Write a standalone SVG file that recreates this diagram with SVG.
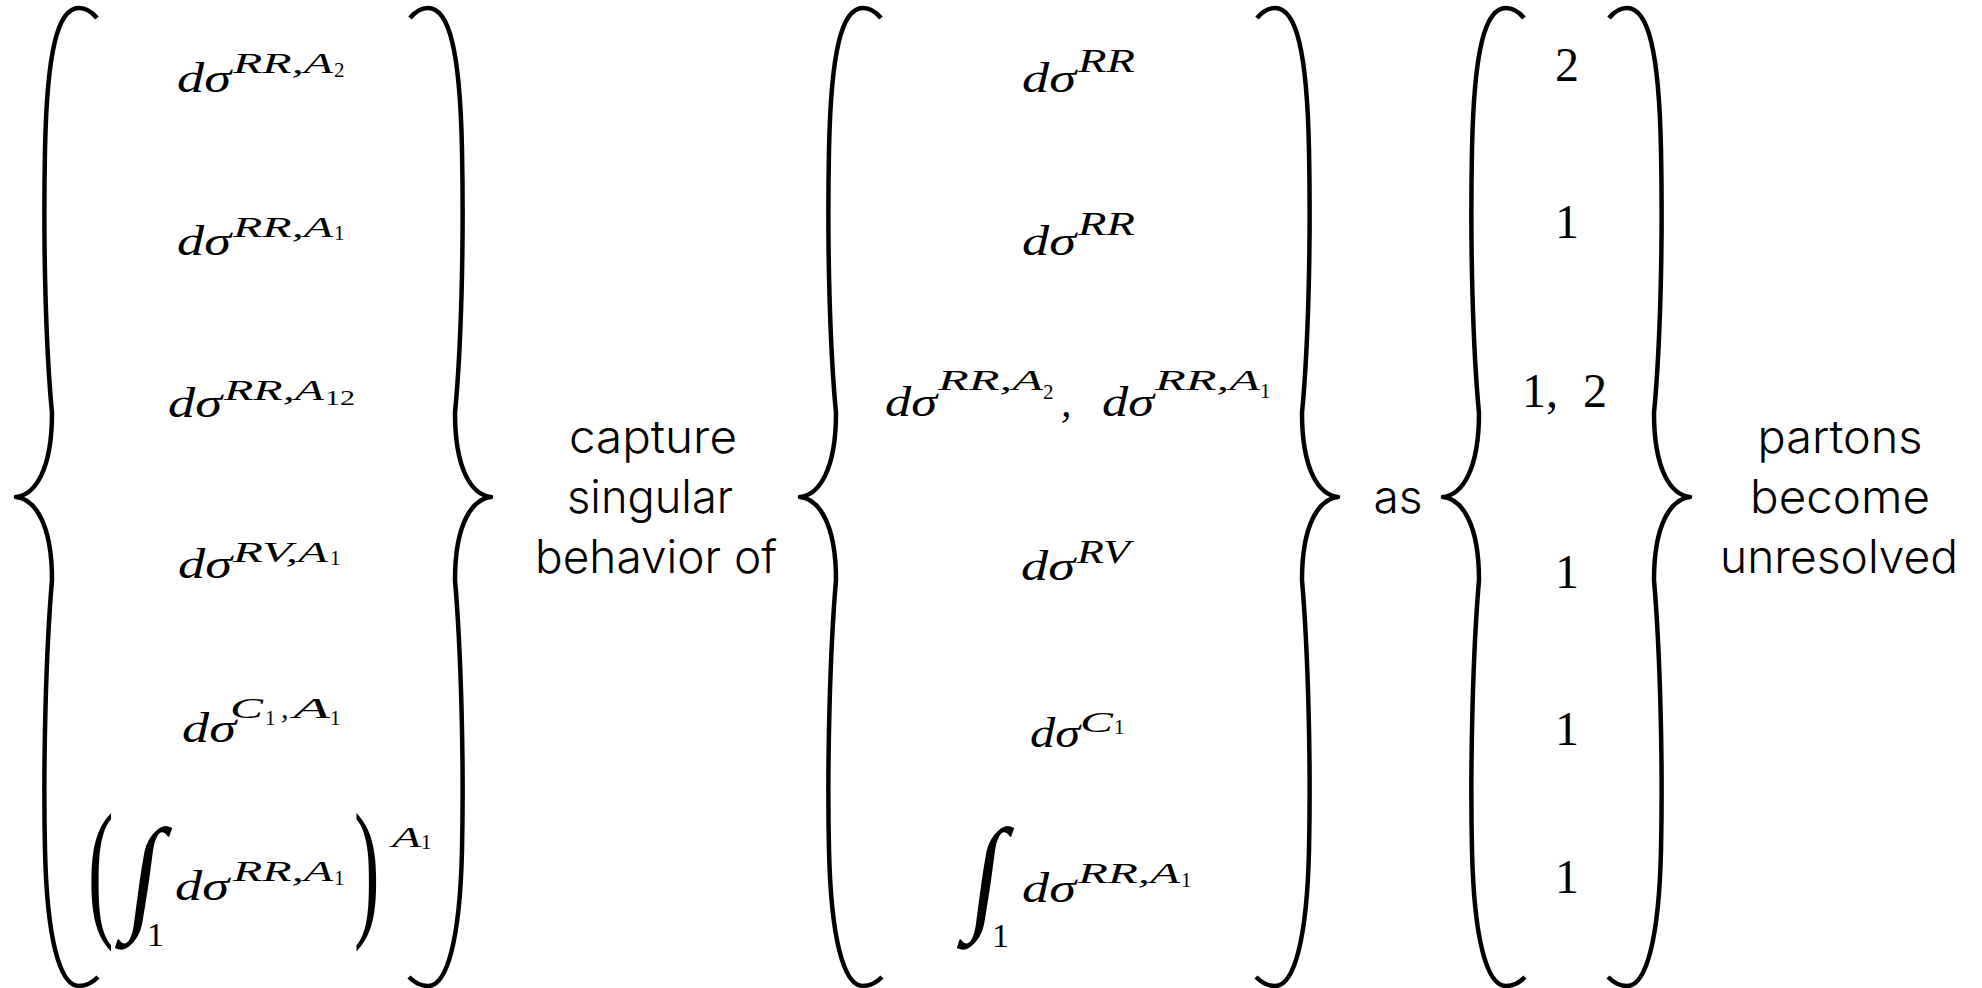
<svg xmlns="http://www.w3.org/2000/svg" xmlns:xlink="http://www.w3.org/1999/xlink" width="1982" height="988" viewBox="0 0 1982 988">
<style>
.m{font-family:"Liberation Serif",serif;font-style:italic;font-size:42px;fill:#000}
.s{font-family:"Liberation Serif",serif;font-style:italic;font-size:30px;fill:#000}
.s2{font-family:"Liberation Serif",serif;font-style:italic;font-size:33px;fill:#000}
.ss{font-family:"Liberation Serif",serif;font-size:21px;fill:#000}
.sd{font-family:"Liberation Serif",serif;font-size:34px;fill:#000}
.n{font-family:"Liberation Serif",serif;font-size:48px;fill:#000}
.t{font-family:Inter,"Liberation Sans",Arial,sans-serif;font-weight:300;font-size:46px;fill:#000;text-anchor:middle}
.br{fill:none;stroke:#000;stroke-width:4.5;stroke-linejoin:round}
.big{font-family:"Liberation Serif",serif;fill:#000}
</style>
<defs>
<path id="lb" class="br" d="M 81 18 C 76 12, 70 8, 63 8 C 42 8, 31 50, 29 150 C 27 250, 30 350, 36 413 C 36 470, 19 495, 0 497 C 19 499, 36 524, 36 580 C 30 650, 27 760, 29 850 C 31 940, 44 986, 63 986 C 70 986, 76 983, 82 977"/>
</defs>
<rect width="1982" height="988" fill="#fff"/>

<g id="braces">
<use xlink:href="#lb" transform="translate(16,0)"/>
<use xlink:href="#lb" transform="translate(491,0) scale(-1,1)"/>
<use xlink:href="#lb" transform="translate(800,0)"/>
<use xlink:href="#lb" transform="translate(1338,0) scale(-1,1)"/>
<use xlink:href="#lb" transform="translate(1443,0)"/>
<use xlink:href="#lb" transform="translate(1690,0) scale(-1,1)"/>
</g>

<g id="col1">
<g id="c1r1"><text class="m" x="177" y="92" textLength="54" lengthAdjust="spacingAndGlyphs">dσ</text><text class="s" x="233" y="73" textLength="100" lengthAdjust="spacingAndGlyphs">RR,A</text><text class="ss" x="334" y="77">2</text></g>
<g id="c1r2"><text class="m" x="177" y="255" textLength="54" lengthAdjust="spacingAndGlyphs">dσ</text><text class="s" x="233" y="237" textLength="100" lengthAdjust="spacingAndGlyphs">RR,A</text><text class="ss" x="334" y="240">1</text></g>
<g id="c1r3"><text class="m" x="168" y="417" textLength="54" lengthAdjust="spacingAndGlyphs">dσ</text><text class="s" x="224" y="400" textLength="100" lengthAdjust="spacingAndGlyphs">RR,A</text><text class="ss" x="325" y="405" textLength="30" lengthAdjust="spacingAndGlyphs">12</text></g>
<g id="c1r4"><text class="m" x="178" y="578" textLength="54" lengthAdjust="spacingAndGlyphs">dσ</text><text class="s" x="233" y="562" textLength="95" lengthAdjust="spacingAndGlyphs">RV,A</text><text class="ss" x="330" y="565">1</text></g>
<g id="c1r5"><text class="m" x="182" y="742" textLength="54" lengthAdjust="spacingAndGlyphs">dσ</text><text class="s" x="230" y="718" textLength="33" lengthAdjust="spacingAndGlyphs">C</text><text class="ss" x="265" y="725">1</text><text class="s" x="281" y="718">,</text><text class="s" x="293" y="718" textLength="37" lengthAdjust="spacingAndGlyphs">A</text><text class="ss" x="330" y="725">1</text></g>
<g id="c1r6">
<text class="big" x="0" y="0" font-size="153" transform="translate(88,919) scale(0.5,1)">(</text>
<text class="big" x="0" y="0" font-size="126" transform="translate(125,916) skewX(-8) scale(0.85,1)">∫</text>
<text class="sd" x="147" y="946">1</text>
<text class="m" x="175" y="900" textLength="54" lengthAdjust="spacingAndGlyphs">dσ</text><text class="s" x="233" y="881" textLength="100" lengthAdjust="spacingAndGlyphs">RR,A</text><text class="ss" x="334" y="885">1</text>
<text class="big" x="0" y="0" font-size="153" transform="translate(354,919) scale(0.5,1)">)</text>
<text class="s" x="392" y="847" textLength="29" lengthAdjust="spacingAndGlyphs">A</text><text class="ss" x="421" y="849">1</text>
</g>
</g>

<g id="label-capture">
<text class="t" x="653" y="453" textLength="168" lengthAdjust="spacingAndGlyphs">capture</text>
<text class="t" x="650" y="513" textLength="166" lengthAdjust="spacingAndGlyphs">singular</text>
<text class="t" x="656" y="573" textLength="242" lengthAdjust="spacingAndGlyphs">behavior of</text>
</g>

<g id="col2">
<g id="c2r1"><text class="m" x="1022" y="92" textLength="54" lengthAdjust="spacingAndGlyphs">dσ</text><text class="s2" x="1078" y="72" textLength="57" lengthAdjust="spacingAndGlyphs">RR</text></g>
<g id="c2r2"><text class="m" x="1022" y="255" textLength="54" lengthAdjust="spacingAndGlyphs">dσ</text><text class="s2" x="1078" y="235" textLength="57" lengthAdjust="spacingAndGlyphs">RR</text></g>
<g id="c2r3"><text class="m" x="885" y="416" textLength="52" lengthAdjust="spacingAndGlyphs">dσ</text><text class="s" x="938" y="390" textLength="105" lengthAdjust="spacingAndGlyphs">RR,A</text><text class="ss" x="1043" y="399">2</text><text class="m" x="1061" y="416">,</text><text class="m" x="1102" y="416" textLength="52" lengthAdjust="spacingAndGlyphs">dσ</text><text class="s" x="1155" y="390" textLength="105" lengthAdjust="spacingAndGlyphs">RR,A</text><text class="ss" x="1260" y="398">1</text></g>
<g id="c2r4"><text class="m" x="1021" y="580" textLength="54" lengthAdjust="spacingAndGlyphs">dσ</text><text class="s2" x="1077" y="563" textLength="53" lengthAdjust="spacingAndGlyphs">RV</text></g>
<g id="c2r5"><text class="m" x="1030" y="747" textLength="50" lengthAdjust="spacingAndGlyphs">dσ</text><text class="s" x="1080" y="732" textLength="33" lengthAdjust="spacingAndGlyphs">C</text><text class="ss" x="1114" y="734">1</text></g>
<g id="c2r6">
<text class="big" x="0" y="0" font-size="126" transform="translate(967,916) skewX(-8) scale(0.85,1)">∫</text>
<text class="sd" x="992" y="947">1</text>
<text class="m" x="1022" y="902" textLength="54" lengthAdjust="spacingAndGlyphs">dσ</text><text class="s" x="1078" y="883" textLength="102" lengthAdjust="spacingAndGlyphs">RR,A</text><text class="ss" x="1181" y="887">1</text>
</g>
</g>

<g id="label-as"><text class="t" x="1398" y="513" textLength="49" lengthAdjust="spacingAndGlyphs">as</text></g>

<g id="col3">
<text class="n" x="1567" y="81" text-anchor="middle">2</text>
<text class="n" x="1567" y="238" text-anchor="middle">1</text>
<text class="n" x="1522" y="407">1,</text><text class="n" x="1583" y="407">2</text>
<text class="n" x="1567" y="588" text-anchor="middle">1</text>
<text class="n" x="1567" y="745" text-anchor="middle">1</text>
<text class="n" x="1567" y="893" text-anchor="middle">1</text>
</g>

<g id="label-partons">
<text class="t" x="1840" y="453" textLength="165" lengthAdjust="spacingAndGlyphs">partons</text>
<text class="t" x="1840" y="513" textLength="180" lengthAdjust="spacingAndGlyphs">become</text>
<text class="t" x="1839" y="573" textLength="238" lengthAdjust="spacingAndGlyphs">unresolved</text>
</g>
</svg>
